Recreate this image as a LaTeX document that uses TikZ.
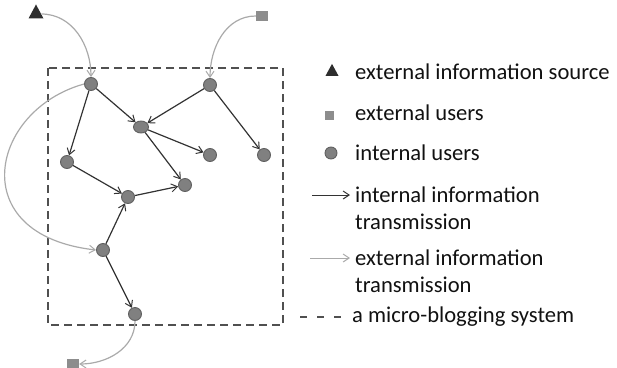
\documentclass[tikz,border=0pt]{standalone}
\usepackage{fontspec}
\setmainfont{Carlito}
\usetikzlibrary{arrows.meta,shapes.geometric}
\definecolor{usergray}{HTML}{808080}
\definecolor{rimgray}{HTML}{606060}
\definecolor{darkline}{HTML}{333333}
\definecolor{lightline}{HTML}{AAAAAA}
\definecolor{boxgray}{HTML}{505050}
\definecolor{textgray}{HTML}{111111}
\tikzset{
  user/.style={circle, fill=usergray, draw=rimgray, line width=0.9pt, minimum size=13pt, inner sep=0pt},
  extuser/.style={rectangle, fill=usergray!90, draw=none, minimum width=12pt, minimum height=10pt, inner sep=0pt},
  source/.style={isosceles triangle, shape border rotate=90, isosceles triangle stretches, fill=black!82, minimum width=15pt, minimum height=14pt, inner sep=0pt},
  intarrow/.style={draw=darkline, line width=1.2pt, -{Straight Barb[length=6pt,width=8pt,line width=1pt]}},
  extarrow/.style={draw=lightline, line width=1.2pt, -{Straight Barb[length=6pt,width=8pt,line width=1pt]}},
  sysbox/.style={draw=boxgray, line width=1.9pt, dash pattern=on 8pt off 5pt},
  legtext/.style={anchor=west, inner sep=0pt, text=textgray, align=left, font=\fontsize{22.6}{27}\selectfont},
}
\begin{document}
\begin{tikzpicture}[x=1pt,y=-1pt]
\useasboundingbox (0,0) rectangle (617,367);

% the micro-blogging system
\draw[sysbox] (48,68) rectangle (283,325);

% outside the system
\node[source] (src) at (36,14) {};
\node[extuser] (ext1) at (262,16) {};
\node[extuser] (ext2) at (73,364) {};

% users inside the system
\node[user] (a) at (91,84) {};
\node[user, minimum width=15pt, minimum height=12pt, ellipse] (b) at (141,127) {};
\node[user] (c) at (210,85) {};
\node[user] (d) at (67,162) {};
\node[user] (e) at (210,155) {};
\node[user] (f) at (264,155) {};
\node[user] (g) at (128,197) {};
\node[user] (h) at (185,185) {};
\node[user] (i) at (103,250) {};
\node[user] (j) at (135,314) {};

% information flowing in from / out to the outside
\draw[extarrow] (src.east) to[out=0,in=90] (a.north);
\draw[extarrow] (ext1.west) to[out=180,in=90] (c.north);
\draw[extarrow] (a.west) .. controls (-10,110) and (-37,235) .. (i.west);
\draw[extarrow] (j.south) to[out=-90,in=0] (ext2.east);

% information flowing between users
\draw[intarrow] (a) -- (b);
\draw[intarrow] (a) -- (d);
\draw[intarrow] (c) -- (b);
\draw[intarrow] (c) -- (f);
\draw[intarrow] (b) -- (e);
\draw[intarrow] (b) -- (h);
\draw[intarrow] (d) -- (g);
\draw[intarrow] (g) -- (h);
\draw[intarrow] (i) -- (g);
\draw[intarrow] (i) -- (j);

% legend
\node[source, minimum width=13pt, minimum height=12pt] (lsrc) at (332,72) {};
\node[legtext] (t1) at (355,72) {external information source};
\node[extuser, minimum width=9pt, minimum height=9pt] (lext) at (329,115) {};
\node[legtext] (t2) at (355,113) {external users};
\node[user, minimum size=12pt] (lusr) at (331,153) {};
\node[legtext] (t3) at (355,153) {internal users};
\coordinate (ia0) at (312,195);
\coordinate (ia1) at (350,195);
\draw[intarrow, line width=0.9pt] (ia0) -- (ia1);
\node[legtext] (t4) at (355,208) {internal information\\transmission};
\coordinate (ea0) at (310,258);
\coordinate (ea1) at (350,258);
\draw[extarrow, line width=0.9pt] (ea0) -- (ea1);
\node[legtext] (t5) at (355,271) {external information\\transmission};
\coordinate (da0) at (300,317);
\coordinate (da1) at (341,317);
\draw[draw=boxgray, line width=1.5pt, dash pattern=on 7pt off 10pt] (da0) -- (da1);
\node[legtext] (t6) at (352,317) {a micro-blogging system};
\end{tikzpicture}
\end{document}
